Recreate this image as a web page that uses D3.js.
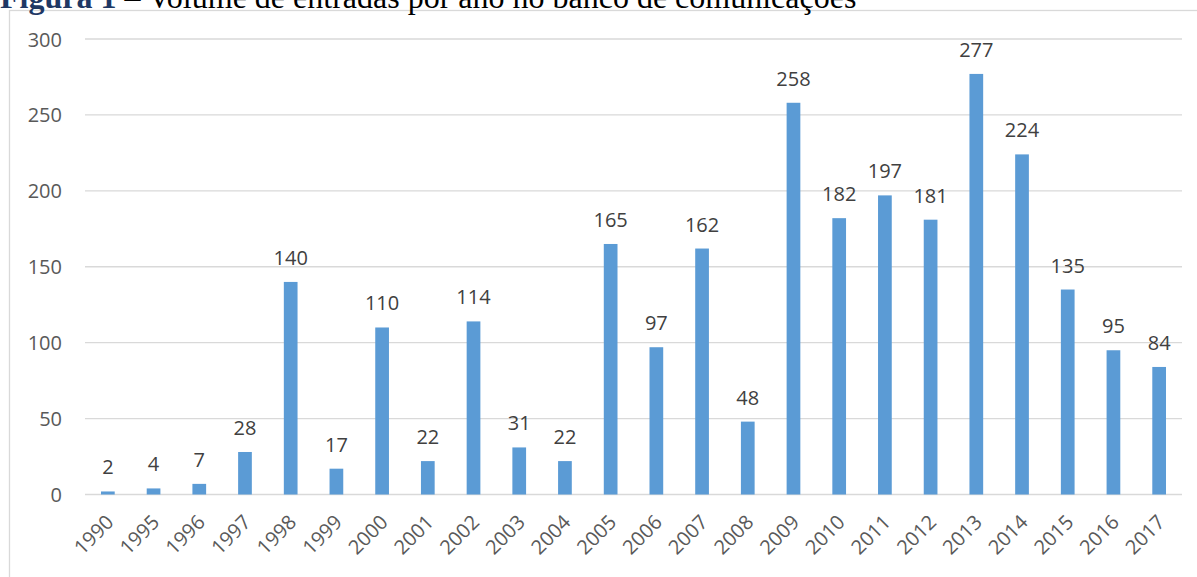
<!DOCTYPE html>
<meta charset="utf-8">
<style>
body { margin: 0; background: #fff; }
.grid line { stroke: #d9d9d9; stroke-width: 1.3px; }
.bar { fill: #5b9bd5; }
.label, .tick text { font-family: "Open Sans", sans-serif; font-size: 20px; }
</style>
<body></body>
<script src="https://cdn.jsdelivr.net/npm/d3@7"></script>
<script>

var years = ["1990","1995","1996","1997","1998","1999","2000","2001","2002","2003","2004","2005","2006","2007","2008","2009","2010","2011","2012","2013","2014","2015","2016","2017"];
var entradas = [2,4,7,28,140,17,110,22,114,31,22,165,97,162,48,258,182,197,181,277,224,135,95,84];
var yTicks = [0,50,100,150,200,250,300];

var width = 1197,
    height = 577;

var svg = d3.select("body").append("svg")
    .attr("width", width)
    .attr("height", height);

// frame
svg.append("rect")
    .attr("x", 9.5).attr("y", 10.5)
    .attr("width", 1200).attr("height", 600)
    .attr("fill", "none")
    .attr("stroke", "#d9d9d9")
    .attr("stroke-width", 1.3);

// title (cut off at top, like the reference)
var title = svg.append("text")
    .attr("x", 0).attr("y", 7.5)
    .style("font-family", "'Liberation Serif', serif")
    .style("font-size", "32px");
title.append("tspan").attr("fill", "#1f3864").attr("font-weight", "bold").text("Figura 1");
title.append("tspan").attr("fill", "#000").text(" \u2013 Volume de entradas por ano no banco de comunicações");

var x = d3.scaleBand()
    .domain(years)
    .range([85, 1182])
    .paddingInner(0.7)
    .paddingOuter(0.35);

var y = d3.scaleLinear()
    .domain([0, 300])
    .range([494.5, 39]);

var grid = svg.append("g").attr("class", "grid");
grid.selectAll("line")
    .data(yTicks)
    .enter().append("line")
      .attr("x1", 85)
      .attr("x2", 1182)
      .attr("y1", function(d) { return y(d); })
      .attr("y2", function(d) { return y(d); });

var yAxis = svg.append("g")
    .attr("transform", "translate(62,0)")
    .call(d3.axisLeft(y).tickValues(yTicks).tickSize(0).tickPadding(0));
yAxis.select(".domain").remove();
yAxis.selectAll("text").attr("fill", "#595959").attr("dy", "0.35em");

svg.append("g").selectAll("rect")
    .data(entradas)
    .enter().append("rect")
      .attr("class", "bar")
      .attr("x", function(d, i) { return x(years[i]); })
      .attr("width", x.bandwidth())
      .attr("y", function(d) { return y(d); })
      .attr("height", function(d) { return y(0) - y(d); });

svg.append("g").selectAll("text")
    .data(entradas)
    .enter().append("text")
      .attr("class", "label")
      .attr("fill", "#404040")
      .attr("text-anchor", "middle")
      .attr("x", function(d, i) { return x(years[i]) + x.bandwidth() / 2; })
      .attr("y", function(d) { return y(d) - 17; })
      .text(function(d) { return d; });

var xAxis = svg.append("g")
    .attr("transform", "translate(0," + y(0) + ")")
    .call(d3.axisBottom(x).tickSize(0).tickPadding(0));
xAxis.select(".domain").remove();
xAxis.selectAll("text")
    .attr("fill", "#595959")
    .attr("text-anchor", "end")
    .attr("dy", null)
    .attr("y", 0)
    .attr("transform", "translate(7,29) rotate(-45)");

</script>
